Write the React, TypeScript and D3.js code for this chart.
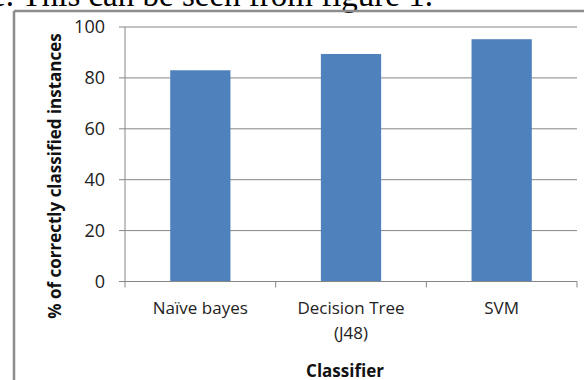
import React from "react";
import * as d3 from "d3";

const categories: string[][] = [["Naïve bayes"], ["Decision Tree", "(J48)"], ["SVM"]];
const categoryKeys = ["Naïve bayes", "Decision Tree (J48)", "SVM"];
const values = [83, 89.4, 95.2];
const yTicks = [0, 20, 40, 60, 80, 100];
const yTitle = "% of correctly classified instances";
const xTitle = "Classifier";
const topText = "e. This can be seen from figure 1.";

const W = 584;
const H = 380;
const left = 125;
const right = 577;
const top = 27;
const bottom = 281.5;
const font = "'Open Sans', sans-serif";
const grid = "#868686";

export default function App() {
  const x = d3
    .scaleBand<string>()
    .domain(categoryKeys)
    .range([left, right])
    .paddingInner(0.6)
    .paddingOuter(0.3);
  const y = d3.scaleLinear().domain([0, 100]).range([bottom, top]);
  const step = x.step();
  const boundaries = d3.range(categoryKeys.length + 1).map((i) => left + i * step);

  return (
    <svg
      width={W}
      height={H}
      style={{ position: "absolute", left: 0, top: 0, background: "#fff" }}
    >
      <rect x={0} y={0} width={W} height={H} fill="#fff" />
      <text x={-9} y={5.5} fontFamily="'Liberation Serif', serif" fontSize={33} fill="#000">
        {topText}
      </text>
      {/* frame */}
      <line x1={14} y1={11} x2={W + 2} y2={11} stroke="#8c8c8c" strokeWidth={2.5} />
      <line x1={14} y1={11} x2={14} y2={H + 2} stroke="#8c8c8c" strokeWidth={2.5} />

      {/* gridlines */}
      {yTicks.map((t) => (
        <line key={"g" + t} x1={left - 6} x2={right} y1={y(t)} y2={y(t)} stroke={grid} strokeWidth={1} />
      ))}
      {/* y axis */}
      <line x1={left} x2={left} y1={top} y2={bottom} stroke={grid} strokeWidth={1} />
      {yTicks.map((t) => (
        <text
          key={"t" + t}
          x={105}
          y={y(t)}
          dy="0.36em"
          textAnchor="end"
          fontFamily={font}
          fontSize={18}
          fill="#222"
        >
          {t}
        </text>
      ))}

      {/* bars */}
      {categoryKeys.map((c, i) => (
        <rect
          key={c}
          x={x(c)}
          y={y(values[i])}
          width={x.bandwidth()}
          height={y(0) - y(values[i])}
          fill="#4f81bd"
        />
      ))}

      {/* x axis */}
      <line x1={left} x2={right} y1={bottom} y2={bottom} stroke={grid} strokeWidth={1} />
      {boundaries.map((b, i) => (
        <line key={"xt" + i} x1={b} x2={b} y1={bottom} y2={bottom + 6} stroke={grid} strokeWidth={1} />
      ))}
      {categoryKeys.map((c, i) => (
        <text
          key={"l" + c}
          x={(x(c) as number) + x.bandwidth() / 2}
          y={314}
          textAnchor="middle"
          fontFamily={font}
          fontSize={17}
          fill="#222"
        >
          {categories[i].map((line, j) => (
            <tspan key={j} x={(x(c) as number) + x.bandwidth() / 2} dy={j === 0 ? 0 : 25}>
              {line}
            </tspan>
          ))}
        </text>
      ))}

      {/* titles */}
      <text
        x={345}
        y={376.5}
        textAnchor="middle"
        fontFamily={font}
        fontWeight="bold"
        fontSize={17}
        fill="#111"
      >
        {xTitle}
      </text>
      <text
        transform={`translate(${61},${176}) rotate(-90)`}
        textAnchor="middle"
        fontFamily={font}
        fontWeight="bold"
        fontSize={17}
        fill="#111"
      >
        {yTitle}
      </text>
    </svg>
  );
}
